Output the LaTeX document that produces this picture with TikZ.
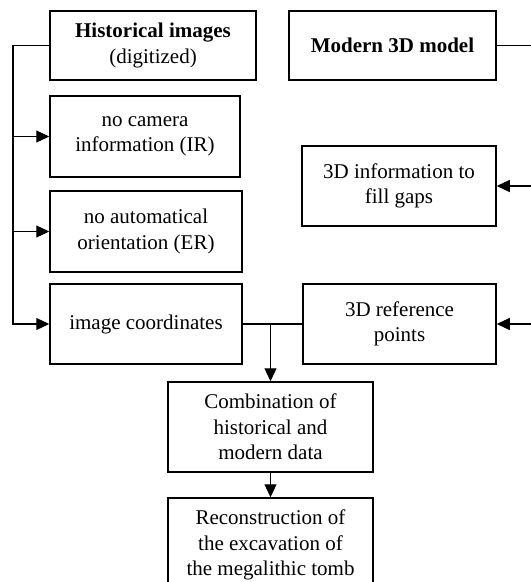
\documentclass[tikz,border=0pt]{standalone}
\usepackage{fontspec}
\setmainfont{Liberation Serif}
\usetikzlibrary{arrows.meta,positioning,calc}
\tikzset{
  box/.style={draw,line width=1.5pt,align=center,inner sep=0pt,
              font=\fontsize{21}{25.5}\selectfont},
  link/.style={line width=1.1pt},
  arr/.style={link,-{Triangle[length=13pt,width=12pt]}}
}

\begin{document}
\begin{tikzpicture}[x=1pt,y=-1pt]
  \useasboundingbox (0,0) rectangle (531,582);
  \clip (0,0) rectangle (531,582);
  %% Left column
  \node[box,minimum width=206pt,minimum height=69pt] (hist) at (153,45.5)
        {\textbf{Historical images}\\(digitized)};
  \node[box,minimum width=190pt,minimum height=81pt] (nocam) at (145,136.5)
        {no camera\\information (IR)};
  \node[box,minimum width=192pt,minimum height=81pt] (noaut) at (146,231.5)
        {no automatical\\orientation (ER)};
  \node[box,minimum width=192pt,minimum height=80pt] (imgco) at (146,324)
        {image coordinates};
  %% Right column
  \node[box,minimum width=207pt,minimum height=69pt] (model) at (392.5,45.5)
        {\textbf{Modern 3D model}};
  \node[box,minimum width=194pt,minimum height=80pt] (fill) at (399,186)
        {3D information to\\fill gaps};
  \node[box,minimum width=193pt,minimum height=80pt] (refpts) at (399.5,324)
        {3D reference\\points};
  %% Bottom
  \node[box,minimum width=205pt,minimum height=90pt] (comb) at (270.5,427)
        {Combination of\\historical and\\modern data};
  \node[box,minimum width=205pt,minimum height=94pt] (recon) at (270.5,545)
        {Reconstruction of\\the excavation of\\the megalithic tomb};
  %% Connectors
  \coordinate (ltrunk) at (13,45.5);
  \coordinate (rtrunk) at (545,45.5);
  \draw[arr] (hist.west) -- (ltrunk) |- (imgco.west);
  \draw[arr] (ltrunk |- nocam.west) -- (nocam.west);
  \draw[arr] (ltrunk |- noaut.west) -- (noaut.west);
  \draw[arr] (model.east) -- (rtrunk) |- (refpts.east);
  \draw[arr] (rtrunk |- fill.east) -- (fill.east);
  \draw[link] (imgco.east) -- (refpts.west);
  \draw[arr] (imgco.east -| comb.north) -- (comb.north);
  \draw[arr] (comb) -- (recon);
\end{tikzpicture}
\end{document}
